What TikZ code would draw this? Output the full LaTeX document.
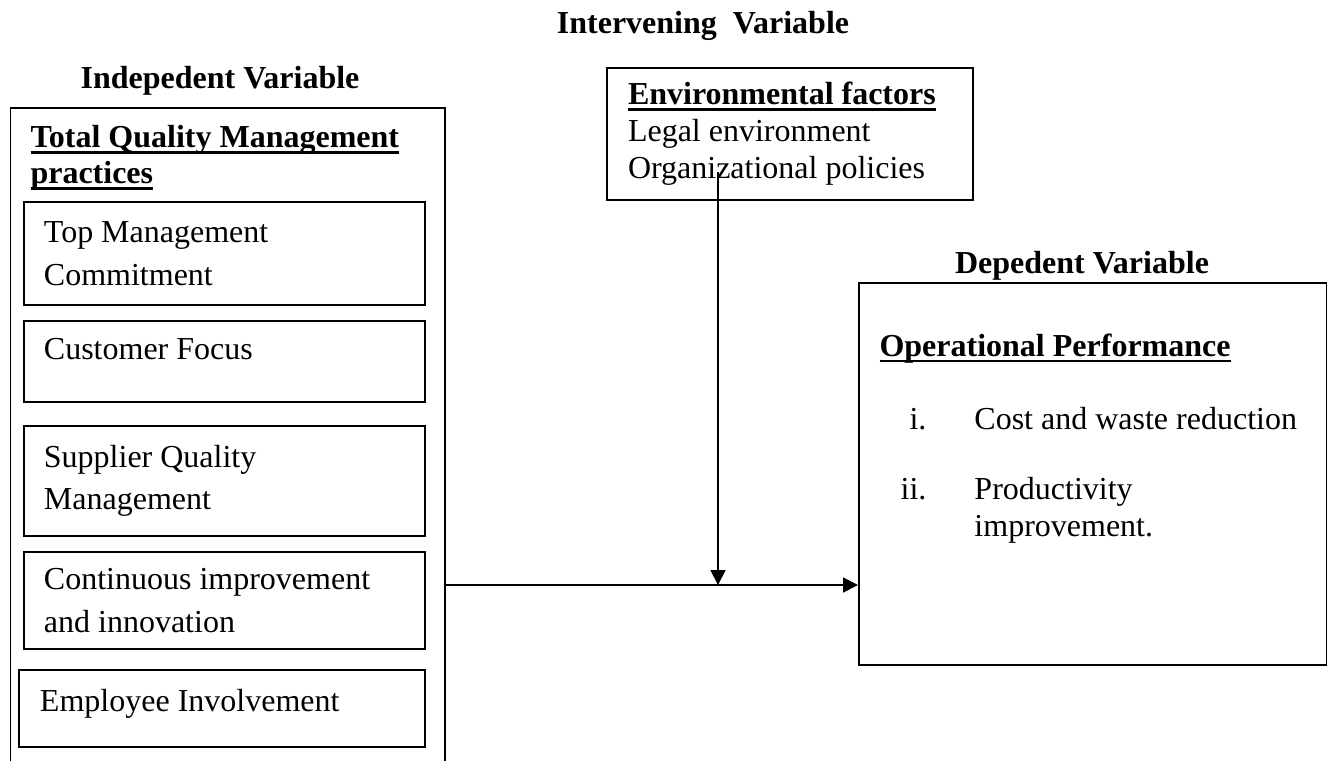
\documentclass[tikz,border=0pt]{standalone}
\usepackage{fontspec}
\setmainfont{Liberation Serif}
\usetikzlibrary{arrows.meta, positioning}
\newcommand{\headul}[1]{\setbox0\hbox{#1}\rlap{\rule[-2.4pt]{\wd0}{1.1pt}}\box0}
\tikzset{
    outerbox/.style = {rectangle, draw=black, line width=0.7pt, anchor=north west, inner sep=0pt},
    itembox/.style = {rectangle, draw=black, line width=0.7pt, anchor=north west, align=left, text width=135.4pt, inner xsep=7.5pt, font=\fontsize{12}{16}\selectfont,
        execute at begin node={\spaceskip=0.25em plus 0.1em minus 0.08em\relax}},
    title/.style = {anchor=base, inner sep=0pt, font=\fontsize{12}{14}\selectfont\bfseries},
    arrow/.style = {line width=0.7pt, -{Triangle[length=5.6pt, width=5.6pt]}}
}
\begin{document}
\begin{tikzpicture}[x=0.375pt, y=-0.375pt]
\useasboundingbox (0,0) rectangle (1327,760);
\clip (0,0) rectangle (1327,760);

% independent variable
\node[title] (indep) at (220,88) {Indepedent Variable};
\node[outerbox, minimum width=162.9pt, minimum height=260pt] (tqmbox) at (9.5,107) {};
\node[anchor=north west, inner sep=0pt, align=left, font=\fontsize{12}{13.5}\selectfont\bfseries] (tqm) at (30,125) {\headul{Total Quality Management}\\\headul{practices}};
\node[itembox, minimum height=38.6pt] (topmgmt) at (23,201) {Top Management\\Commitment};
\node[itembox, minimum height=30.4pt, text depth=9.3pt] (custfocus) at (23,320) {Customer Focus};
\node[itembox, minimum height=41.25pt] (supplier) at (23,425) {Supplier Quality\\Management};
\node[itembox, minimum height=36.4pt] (contimp) at (23,551) {Continuous improvement\\and innovation};
\node[itembox, minimum height=28.9pt, text width=136.5pt, inner xsep=7.9pt, text depth=6.3pt] (employee) at (18,669) {Employee Involvement};

% intervening variable
\node[title] (interv) at (703,33) {Intervening\ \ Variable};
\node[itembox, text width=121.45pt, inner xsep=7.9pt, minimum height=49.5pt, font=\fontsize{12}{13.9}\selectfont] (env) at (606,67) {\headul{\textbf{Environmental factors}}\\Legal environment\\Organizational policies};

% dependent variable
\node[title] (dep) at (1082,273) {Depedent Variable};
\node[outerbox, minimum width=175.5pt, minimum height=143.25pt] (perf) at (858,282) {};
\node[anchor=north west, inner sep=0pt, align=left, font=\fontsize{12}{13.9}\selectfont] (perflist) at (879,333) {\headul{\textbf{Operational Performance}}\\[13.5pt]
\makebox[17.6pt][r]{i.}\hspace*{18pt}Cost and waste reduction\\[12.35pt]
\makebox[17.6pt][r]{ii.}\hspace*{18pt}Productivity\\
\hspace*{35.6pt}improvement.};

% connectors
\coordinate (join) at (718,585);
\coordinate (drop) at (718,172);
\draw[arrow] (tqmbox.east |- join) -- (perf.west |- join);
\draw[arrow] (drop) -- (join);
\end{tikzpicture}
\end{document}
